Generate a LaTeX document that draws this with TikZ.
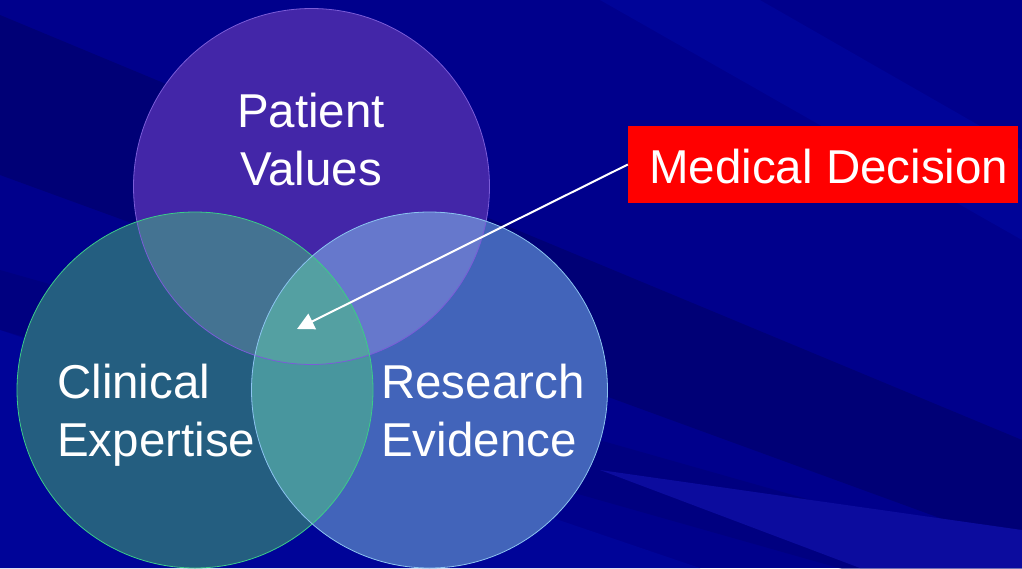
\documentclass[tikz,border=0pt]{standalone}
\usepackage{fontspec}
\setmainfont{Liberation Sans}
\usetikzlibrary{arrows.meta}
\definecolor{bgbase}{HTML}{00008C}
\definecolor{bgdark}{HTML}{000076}
\definecolor{bglight}{HTML}{000498}
\definecolor{bglighter}{HTML}{0C0C9E}
\definecolor{pvc}{HTML}{4326A8}
\definecolor{cec}{HTML}{245E80}
\definecolor{rec}{HTML}{4264BA}
\definecolor{pvce}{HTML}{447392}
\definecolor{pvre}{HTML}{6678CC}
\definecolor{cere}{HTML}{48969E}
\definecolor{allc}{HTML}{54A0A2}
\definecolor{pvedge}{HTML}{7A5CD8}
\definecolor{ceedge}{HTML}{3CCB8A}
\definecolor{reedge}{HTML}{8CC4F0}
\definecolor{mdred}{HTML}{FF0000}
\tikzset{
  lbl/.style={text=white, inner sep=0pt, font=\fontsize{47.5}{58}\selectfont},
  mdbox/.style={fill=mdred, inner sep=0pt, minimum width=390pt, minimum height=77pt},
  pointer/.style={draw=white, line width=2pt, -{Triangle[length=17pt,width=17pt]}},
  rim/.style={line width=0.8pt}
}
\begin{document}
\begin{tikzpicture}[x=1pt,y=-1pt]
\useasboundingbox (0,0) rectangle (1022,568);
% background
\fill[bgbase] (0,0) rectangle (1022,568);
\fill[bgdark] (0,15) -- (0,175) -- (1022,548) -- (1022,440) -- cycle;
\fill[bgdark, opacity=0.5] (0,270) -- (0,330) -- (1022,620) -- (1022,560) -- cycle;
\fill[bglight] (600,0) -- (760,0) -- (1022,150) -- (1022,240) -- cycle;
\fill[bglight] (0,330) -- (0,568) -- (700,568) -- cycle;
\fill[bglighter] (600,470) -- (1022,530) -- (1022,568) -- (860,568) -- cycle;
% circles
\def\PV{(311.5,186.5) circle (178)}
\def\CE{(195,390) circle (178)}
\def\RE{(429.5,390) circle (178)}
\fill[pvc] \PV;
\fill[cec] \CE;
\fill[rec] \RE;
\begin{scope}\clip \PV; \fill[pvce] \CE; \fill[pvre] \RE; \end{scope}
\begin{scope}\clip \CE; \fill[cere] \RE; \end{scope}
\begin{scope}\clip \PV; \clip \CE; \fill[allc] \RE; \end{scope}
\draw[rim, pvedge] \PV;
\draw[rim, ceedge] \CE;
\draw[rim, reedge] \RE;
% labels (base anchor = baseline of last line)
\node[lbl, anchor=base, align=center] (pv) at (311,185) {Patient\\Values};
\node[lbl, anchor=base west, align=left] (ce) at (57,456) {Clinical\\Expertise};
\node[lbl, anchor=base west, align=left] (re) at (381,456) {Research\\Evidence};
% medical decision
\node[mdbox] (md) at (823,164.5) {};
\node[lbl, anchor=base west] (mdt) at (649,183) {Medical Decision};
\coordinate (tip) at (297,329);
\draw[pointer] (md.west) -- (tip);
\end{tikzpicture}
\end{document}
